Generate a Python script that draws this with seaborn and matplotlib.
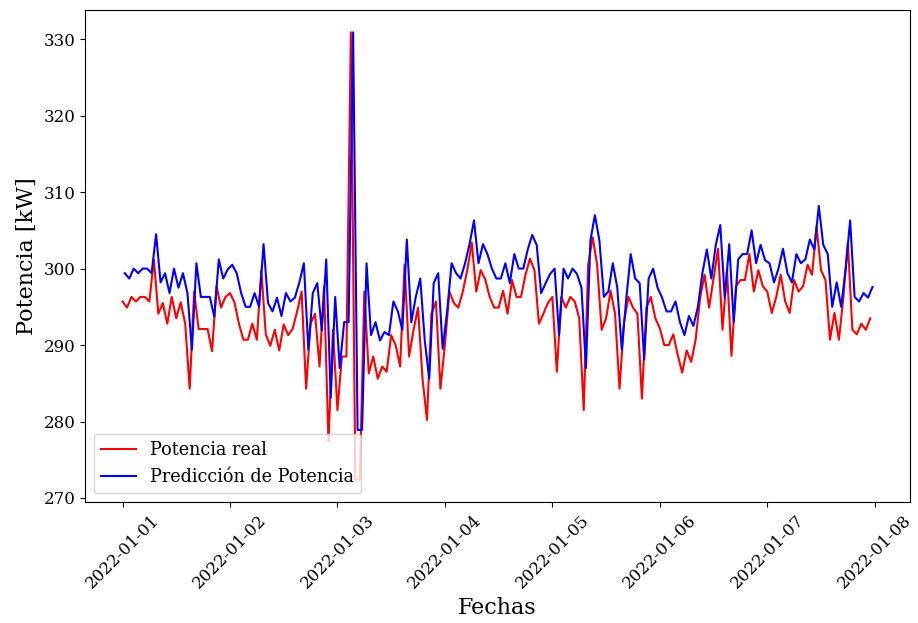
import matplotlib
matplotlib.use("Agg")
import matplotlib.pyplot as plt
import matplotlib.dates as mdates
import numpy as np
import pandas as pd
import seaborn as sns

plt.rcParams["font.family"] = ["DejaVu Serif"]

# Hourly measured power, 2022-01-01 00:00 .. 2022-01-07 23:00 (kW)
potencia_real = [
    295.7, 294.9, 296.3, 295.7, 296.3, 296.3, 295.7, 301.2, 294.1, 295.5, 292.8, 296.3,
    293.5, 295.6, 292.8, 284.3, 297.0, 292.1, 292.1, 292.1, 289.2, 297.7, 294.9, 296.3,
    296.8, 295.6, 292.8, 290.7, 290.7, 292.8, 290.7, 299.8, 291.4, 289.9, 292.0, 289.3,
    292.7, 291.3, 292.1, 294.4, 297.0, 284.3, 292.8, 294.1, 287.2, 297.7, 277.4, 292.0,
    281.5, 288.5, 288.5, 330.9, 272.4, 272.4, 297.0, 286.3, 288.5, 285.6, 287.2, 286.5,
    291.3, 290.0, 287.2, 300.5, 288.5, 292.0, 294.9, 285.6, 280.2, 294.1, 295.7, 284.3,
    290.0, 297.0, 295.5, 294.9, 297.0, 299.8, 303.4, 297.0, 299.8, 298.6, 296.3, 294.9,
    294.9, 297.1, 294.1, 298.5, 296.3, 296.3, 299.2, 301.3, 299.8, 292.8, 294.1, 295.5,
    296.3, 286.5, 296.3, 294.9, 296.3, 295.7, 293.5, 281.5, 300.5, 304.1, 300.5, 292.0,
    293.5, 297.1, 294.1, 284.3, 293.0, 296.3, 294.9, 294.1, 283.0, 294.9, 296.3, 293.5,
    292.2, 290.0, 290.0, 291.4, 288.7, 286.4, 289.3, 287.8, 290.7, 296.2, 299.2, 294.9,
    298.7, 302.6, 292.0, 299.8, 288.6, 297.7, 298.5, 298.5, 301.9, 297.0, 299.8, 297.7,
    297.0, 294.2, 296.3, 299.2, 295.7, 294.2, 298.5, 297.0, 297.7, 300.5, 299.2, 305.5,
    299.8, 298.5, 290.7, 294.2, 290.7, 296.3, 303.4, 292.0, 291.4, 292.8, 292.0, 293.5,
]

# Model prediction, stamped at half past each hour (kW)
prediccion = [
    299.4, 298.7, 300.0, 299.4, 300.0, 300.0, 299.4, 304.5, 298.2, 299.4, 296.8, 300.0,
    297.5, 299.4, 296.8, 289.4, 300.7, 296.3, 296.3, 296.3, 293.7, 301.2, 298.7, 299.9,
    300.5, 299.4, 296.8, 295.0, 295.0, 296.8, 295.0, 303.2, 295.5, 294.4, 296.2, 293.8,
    296.8, 295.7, 296.2, 298.2, 300.7, 289.4, 296.8, 298.1, 291.9, 301.2, 283.1, 296.3,
    287.0, 293.0, 293.0, 330.9, 278.9, 278.9, 300.7, 291.3, 293.0, 290.6, 291.7, 291.3,
    295.7, 294.4, 292.0, 303.8, 293.0, 296.3, 298.7, 290.6, 285.6, 298.1, 299.4, 289.5,
    294.4, 300.7, 299.4, 298.7, 300.7, 303.2, 306.3, 300.7, 303.2, 301.9, 300.0, 298.7,
    298.7, 300.7, 298.1, 301.9, 300.0, 300.0, 302.5, 304.4, 303.1, 296.8, 298.1, 299.3,
    300.0, 291.3, 300.0, 298.7, 300.0, 299.3, 297.5, 287.0, 303.7, 307.0, 303.7, 296.3,
    297.0, 300.7, 297.5, 289.4, 296.0, 301.9, 298.7, 298.1, 288.1, 298.7, 300.0, 297.5,
    296.2, 294.4, 294.4, 295.7, 293.0, 291.3, 293.8, 292.5, 295.0, 299.4, 302.5, 298.7,
    303.1, 305.7, 296.2, 303.2, 293.0, 301.2, 301.9, 301.9, 305.0, 300.7, 303.1, 301.1,
    300.7, 298.2, 300.0, 302.6, 299.4, 298.2, 301.9, 300.7, 301.2, 303.8, 302.5, 308.2,
    303.1, 301.9, 295.0, 298.2, 295.0, 300.0, 306.3, 296.3, 295.7, 296.8, 296.2, 297.6,
]

fechas_real = pd.date_range("2022-01-01 00:00", periods=len(potencia_real), freq="h")
fechas_pred = pd.date_range("2022-01-01 00:30", periods=len(prediccion), freq="h")

df_real = pd.DataFrame({"Fechas": fechas_real, "Potencia": potencia_real})
df_pred = pd.DataFrame({"Fechas": fechas_pred, "Potencia": prediccion})

fig = plt.figure(figsize=(9.18, 6.23), dpi=100)
ax = fig.add_axes([0.0926, 0.1942, 0.8987, 0.7898])

sns.lineplot(data=df_real, x="Fechas", y="Potencia", color="red",
             linewidth=1.5, label="Potencia real", ax=ax)
sns.lineplot(data=df_pred, x="Fechas", y="Potencia", color="blue",
             linewidth=1.5, label="Predicción de Potencia", ax=ax)

ax.xaxis.set_major_locator(mdates.DayLocator())
ax.xaxis.set_major_formatter(mdates.DateFormatter("%Y-%m-%d"))
ax.set_yticks([270, 280, 290, 300, 310, 320, 330])
ax.tick_params(axis="both", labelsize=12)
plt.setp(ax.get_xticklabels(), rotation=45)

ax.set_xlabel("Fechas", fontsize=16)
ax.set_ylabel("Potencia [kW]", fontsize=16)
ax.legend(loc="lower left", fontsize=12.7)

fig.savefig("out.png", dpi=100)
